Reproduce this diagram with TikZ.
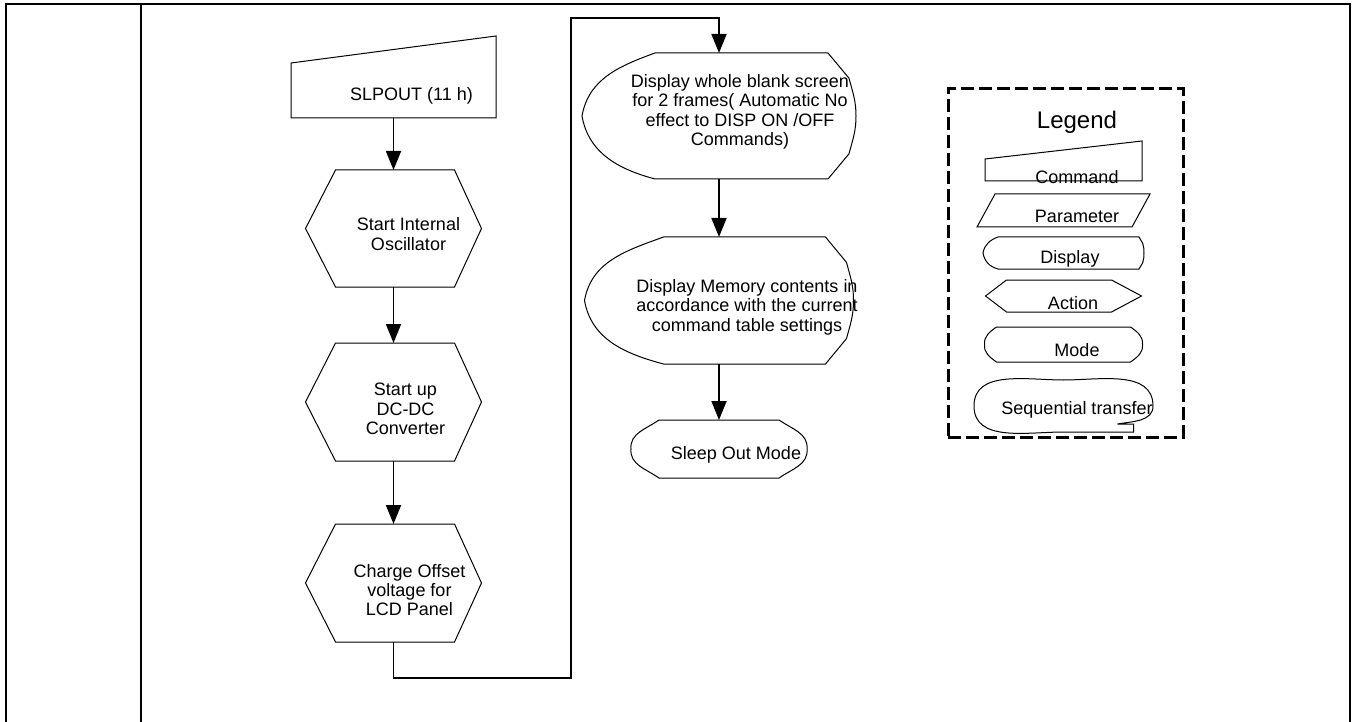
\documentclass[tikz,border=0pt]{standalone}
\usepackage{fontspec}
\setmainfont{Liberation Sans}
\usetikzlibrary{arrows.meta,positioning,calc}
\tikzset{
  outline/.style ={draw=black,line width=0.5pt},
  shapebox/.style={rectangle,draw=none,inner sep=0pt,outer sep=0pt},
  txt/.style     ={inner sep=0pt,align=center,font=\fontsize{9}{9.7}\selectfont},
  frame/.style   ={draw=black,line width=1pt},
  zone/.style    ={shapebox,draw=black,line width=1.5pt,dash pattern=on 6.5pt off 2.5pt},
  flow/.style    ={-{Triangle[length=9.5pt,width=7.5pt]},line width=0.9pt,draw=black},
  cmdshape/.style={shapebox,append after command={\pgfextra{\draw[outline]
      (\tikzlastnode.south west) -- ([yshift=-#1]\tikzlastnode.north west)
      -- (\tikzlastnode.north east) -- (\tikzlastnode.south east) -- cycle;}}},
  parshape/.style={shapebox,append after command={\pgfextra{\draw[outline]
      (\tikzlastnode.south west) -- ([xshift=-#1]\tikzlastnode.south east)
      -- (\tikzlastnode.north east) -- ([xshift=#1]\tikzlastnode.north west) -- cycle;}}},
  actshape/.style n args={2}{shapebox,append after command={\pgfextra{\draw[outline]
      (\tikzlastnode.west) -- ([xshift=#1]\tikzlastnode.north west)
      -- ([xshift=-#2]\tikzlastnode.north east) -- (\tikzlastnode.east)
      -- ([xshift=-#2]\tikzlastnode.south east) -- ([xshift=#1]\tikzlastnode.south west) -- cycle;}}},
  dispshape/.style n args={2}{shapebox,append after command={\pgfextra{\draw[outline]
      ([xshift=#1]\tikzlastnode.north west) to[out=200,in=80] (\tikzlastnode.west)
      to[out=-80,in=165] ([xshift=#1]\tikzlastnode.south west)
      -- ([xshift=-#2]\tikzlastnode.south east)
      -- ($(\tikzlastnode.south east)!0.2!(\tikzlastnode.north east)+(-0.25*#2,0)$)
      to[out=75,in=-90] (\tikzlastnode.east)
      to[out=90,in=-75] ($(\tikzlastnode.north east)!0.2!(\tikzlastnode.south east)+(-0.25*#2,0)$)
      -- ([xshift=-#2]\tikzlastnode.north east) -- cycle;}}},
  modeshape/.style={shapebox,append after command={\pgfextra{\draw[outline]
      ([xshift=#1]\tikzlastnode.north west) to[out=215,in=95] (\tikzlastnode.west)
      to[out=-95,in=145] ([xshift=#1]\tikzlastnode.south west)
      -- ([xshift=-#1]\tikzlastnode.south east) to[out=35,in=-85] (\tikzlastnode.east)
      to[out=85,in=-35] ([xshift=-#1]\tikzlastnode.north east) -- cycle;}}},
  seqshape/.style={shapebox,append after command={\pgfextra{\draw[outline]
      (\tikzlastnode.south) to[out=180,in=-90] (\tikzlastnode.west)
      to[out=90,in=180] (\tikzlastnode.north) to[out=0,in=90] (\tikzlastnode.east)
      to[out=-90,in=10] ([xshift=27pt,yshift=4pt]\tikzlastnode.south)
      -- ([xshift=35pt,yshift=4pt]\tikzlastnode.south)
      -- ([xshift=35pt]\tikzlastnode.south) -- cycle;}}}
}
\begin{document}
\begin{tikzpicture}[x=0.5pt,y=-0.5pt]
  \useasboundingbox (0,0) rectangle (1356,722);
  % page frame
  \draw[frame] (6,722) -- (6,4) -- (1350,4) -- (1350,722);
  \draw[frame] (141,4) -- (141,722);

  % left column
  \node[cmdshape=13.5pt,minimum width=102.5pt,minimum height=41pt,
        label={[txt,xshift=9pt,yshift=-9.5pt]center:SLPOUT (11 h)}] (slpout) at (393.5,77) {};
  \node[actshape={15pt}{13.5pt},minimum width=88pt,minimum height=58.5pt,below=26pt of slpout,
        label={[txt,xshift=7.5pt,yshift=-2.75pt]center:Start Internal\\Oscillator}] (osc) {};
  \node[actshape={15pt}{13.5pt},minimum width=88pt,minimum height=59pt,below=28pt of osc,
        label={[txt,xshift=6pt,yshift=-3.5pt]center:Start up\\DC-DC\\Converter}] (dcdc) {};
  \node[actshape={15pt}{13.5pt},minimum width=88pt,minimum height=59pt,below=31.5pt of dcdc,
        label={[txt,xshift=8pt,yshift=-3.5pt]center:Charge Offset\\voltage for\\LCD Panel}] (chg) {};

  % right column
  \node[dispshape={36.5pt}{14pt},minimum width=137pt,minimum height=63pt,
        label={[txt,xshift=10.5pt,yshift=2pt]center:Display whole blank screen\\for 2 frames( Automatic No\\effect to DISP ON /OFF\\Commands)}] (blank) at (719,116) {};
  \node[dispshape={39.5pt}{14pt},minimum width=134.5pt,minimum height=63.5pt,below=29pt of blank,
        label={[txt,xshift=14pt,yshift=-3.25pt]center:Display Memory contents in\\accordance with the current\\command table settings}] (mem) {};
  \node[modeshape=14pt,minimum width=88pt,minimum height=29pt,below=28pt of mem,
        label={[txt,xshift=8.5pt,yshift=-3pt]center:Sleep Out Mode}] (sleep) {};

  \coordinate (turnA) at (571,678);
  \coordinate (turnB) at (571,18);
  \draw[flow] (slpout.south) -- (osc.north);
  \draw[flow] (osc.south) -- (dcdc.north);
  \draw[flow] (dcdc.south) -- (chg.north);
  \draw[flow] (chg.south) |- (turnA) -- (turnB) -| (blank.north);
  \draw[flow] (blank.south) -- (mem.north);
  \draw[flow] (mem.south) -- (sleep.north);

  % legend
  \node[zone,minimum width=117.5pt,minimum height=174pt] (legbox) at (1065.5,263) {};
  \node[inner sep=0pt,font=\fontsize{12}{14}\selectfont] (legtitle) at (1077,122) {Legend};
  \node[cmdshape=9pt,minimum width=78.5pt,minimum height=20pt,
        label={[txt,xshift=6.75pt,yshift=-8pt]center:Command}] (legcmd) at (1063.5,161) {};
  \node[parshape=9pt,minimum width=86.5pt,minimum height=16.5pt,below=6.5pt of legcmd,
        label={[txt,xshift=6.75pt,yshift=-2.75pt]center:Parameter}] (legpar) {};
  \node[dispshape={7.5pt}{2.5pt},minimum width=80.5pt,minimum height=16pt,below=5pt of legpar,
        label={[txt,xshift=3.25pt,yshift=-3pt]center:Display}] (legdisp) {};
  \node[actshape={10.5pt}{15pt},minimum width=78pt,minimum height=16pt,below=5.5pt of legdisp,
        label={[txt,xshift=4.75pt,yshift=-3.5pt]center:Action}] (legact) {};
  \node[modeshape=6pt,minimum width=79pt,minimum height=17.5pt,below=7.5pt of legact,
        label={[txt,xshift=6.75pt,yshift=-2.75pt]center:Mode}] (legmode) {};
  \node[seqshape,minimum width=89.5pt,minimum height=26pt,below=9pt of legmode,
        label={[txt,xshift=6.75pt,yshift=-2pt]center:Sequential transfer}] (legseq) {};
\end{tikzpicture}
\end{document}
